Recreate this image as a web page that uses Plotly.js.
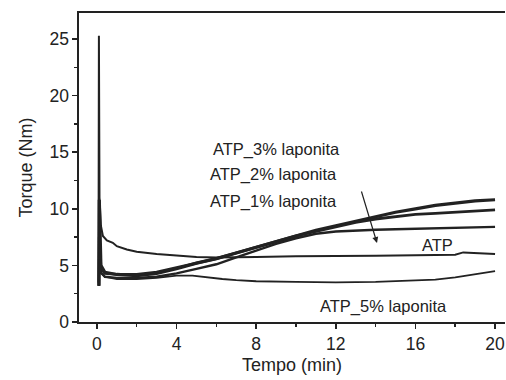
<!DOCTYPE html>
<html>
<head>
<meta charset="utf-8">
<script src="https://cdn.plot.ly/plotly-3.0.1.min.js"></script>
<style>html,body{margin:0;padding:0;background:#fff;}#chart{width:506px;height:380px;}</style>
</head>
<body>
<div id="chart"></div>
<script>
// Data
const xATP = [0.08, 0.1, 0.13, 0.2, 0.3, 0.5, 0.8, 1, 1.5, 2, 3, 4, 5, 6, 7, 8, 10, 12, 14, 16, 18, 18.4, 19, 20];
const yATP = [3.5, 25.3, 11.0, 8.5, 7.6, 7.2, 7.0, 6.7, 6.4, 6.2, 6.0, 5.85, 5.75, 5.7, 5.7, 5.75, 5.8, 5.8, 5.85, 5.9, 5.95, 6.15, 6.1, 6.0];

const xLap = [0.1, 0.12, 0.2, 0.4, 1, 2, 3, 4, 5, 6, 7, 8, 9, 10, 11, 12, 13, 14, 15, 16, 17, 18, 19, 20];
const y3 = [3.2, 10.8, 5.0, 4.4, 4.2, 4.1, 4.3, 4.7, 5.2, 5.6, 6.1, 6.6, 7.1, 7.6, 8.1, 8.5, 8.9, 9.3, 9.7, 10.0, 10.3, 10.5, 10.7, 10.8];
const y2 = [3.2, 7.5, 4.8, 4.3, 4.2, 4.2, 4.4, 4.8, 5.2, 5.6, 6.1, 6.6, 7.1, 7.6, 8.0, 8.4, 8.8, 9.1, 9.3, 9.5, 9.6, 9.7, 9.8, 9.9];
const y1 = [3.2, 6.5, 4.4, 4.0, 3.9, 3.9, 4.0, 4.3, 4.7, 5.1, 5.7, 6.3, 6.9, 7.4, 7.8, 8.0, 8.1, 8.15, 8.2, 8.25, 8.3, 8.35, 8.4, 8.4];

const x5 = [0.1, 0.12, 0.2, 0.4, 1, 2, 3, 4, 4.8, 5.5, 6.3, 7, 8, 10, 12, 14, 15, 16, 17, 18, 19, 20];
const y5 = [3.2, 5.5, 4.3, 4.0, 3.8, 3.8, 3.9, 4.1, 4.1, 3.95, 3.8, 3.7, 3.6, 3.55, 3.5, 3.55, 3.6, 3.7, 3.75, 3.95, 4.25, 4.5];

const labels = ["ATP_3% laponita", "ATP_2% laponita", "ATP_1% laponita", "ATP", "ATP_5% laponita"];
const xTicks = [0, 4, 8, 12, 16, 20];
const yTicks = [0, 5, 10, 15, 20, 25];

const lineCol = "#222";
function tr(x, y, w) {
  return {x: x, y: y, type: "scatter", mode: "lines", line: {color: lineCol, width: w}, hoverinfo: "none"};
}
const data = [
  tr(xATP, yATP, 2.0),
  tr(xLap, y3, 3.2),
  tr(xLap, y2, 2.8),
  tr(xLap, y1, 2.4),
  tr(x5, y5, 1.8)
];

const font = {family: "Liberation Sans, Arial, sans-serif", color: "#222"};
const annFont = Object.assign({}, font, {size: 16.5});
const layout = {
  width: 506, height: 380,
  margin: {l: 79, r: 1, t: 13, b: 58},
  paper_bgcolor: "#fff", plot_bgcolor: "#fff",
  showlegend: false,
  xaxis: {
    range: [-0.9, 20.5], tickvals: xTicks, ticktext: xTicks.map(String),
    ticks: "outside", ticklen: 5, tickwidth: 1.5, tickcolor: lineCol,
    minor: {tickvals: [2, 6, 10, 14, 18], ticks: "outside", ticklen: 3, tickcolor: lineCol},
    showgrid: false, zeroline: false, showline: true, linecolor: lineCol, linewidth: 1.6, mirror: true,
    tickfont: Object.assign({}, font, {size: 17.5}),
    title: {text: "Tempo (min)", font: Object.assign({}, font, {size: 18}), standoff: 6}
  },
  yaxis: {
    range: [0, 27.3], tickvals: yTicks, ticktext: yTicks.map(String),
    ticks: "outside", ticklen: 5, tickwidth: 1.5, tickcolor: lineCol,
    minor: {tickvals: [2.5, 7.5, 12.5, 17.5, 22.5], ticks: "outside", ticklen: 3, tickcolor: lineCol},
    showgrid: false, zeroline: false, showline: true, linecolor: lineCol, linewidth: 1.6,
    tickfont: Object.assign({}, font, {size: 17.5}),
    title: {text: "Torque (Nm)", font: Object.assign({}, font, {size: 18}), standoff: 12}
  },
  annotations: [
    {x: 9.0, y: 15.28, text: labels[0], showarrow: false, font: annFont},
    {x: 8.85, y: 13.07, text: labels[1], showarrow: false, font: annFont},
    {x: 8.85, y: 10.69, text: labels[2], showarrow: false, font: annFont},
    {x: 17.09, y: 6.8, text: labels[3], showarrow: false, font: annFont},
    {x: 14.42, y: 1.33, text: labels[4], showarrow: false, font: annFont},
    {x: 14.07, y: 6.98, text: "", showarrow: true, ax: -16, ay: -53, arrowhead: 2, arrowsize: 1, arrowwidth: 1.2, arrowcolor: lineCol}
  ]
};
Plotly.newPlot("chart", data, layout, {displayModeBar: false, staticPlot: true});
</script>
</body>
</html>
